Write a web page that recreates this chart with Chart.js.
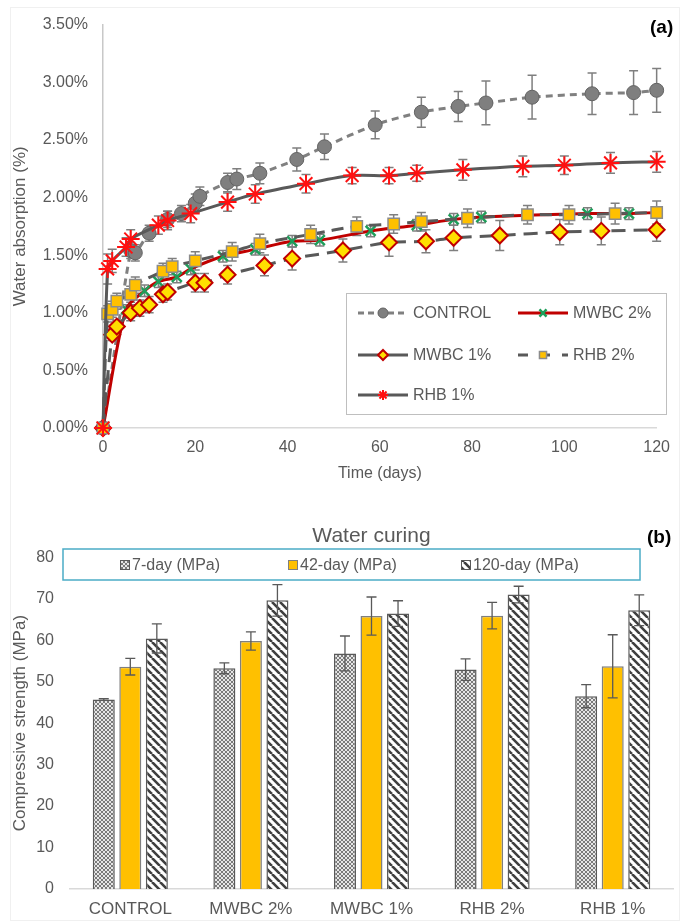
<!DOCTYPE html>
<html>
<head>
<meta charset="utf-8">
<script src="https://cdn.jsdelivr.net/npm/chart.js@4.4.0/dist/chart.umd.min.js"></script>
<style>
  body { margin: 0; background: #fff; font-family: "Liberation Sans", Arial, sans-serif; }
  #wrap { position: relative; width: 680px; height: 922px; }
  #frame { position: absolute; left: 10px; top: 7px; width: 668px; height: 912px; border: 1px solid #f0f0f0; }
  canvas { position: absolute; left: 0; }
  .tag { position: absolute; font-weight: bold; font-size: 19px; color: #000; }
</style>
</head>
<body>
<div id="wrap">
  <div id="frame"></div>
  <canvas id="absorption" width="680" height="490" style="top:0"></canvas>
  <canvas id="strength" width="680" height="432" style="top:490px"></canvas>
  <span class="tag" style="left:650px;top:16px">(a)</span>
  <span class="tag" style="left:647px;top:526px">(b)</span>
</div>
<script>
// ---- (a) water absorption, % vs days
const controlDays = [0, 6, 7, 10, 14, 17, 20, 21, 27, 29, 34, 42, 48, 59, 69, 77, 83, 93, 106, 115, 120];
const controlVals = [0, 1.54, 1.52, 1.69, 1.81, 1.86, 1.95, 2.01, 2.13, 2.16, 2.21, 2.33, 2.44, 2.63, 2.74, 2.79, 2.82, 2.87, 2.90, 2.91, 2.93];
const controlErr  = [0, 0.07, 0.07, 0.07, 0.07, 0.07, 0.08, 0.08, 0.08, 0.09, 0.09, 0.10, 0.11, 0.12, 0.13, 0.13, 0.19, 0.19, 0.18, 0.19, 0.19];

const mwbc2Days = [0, 5, 9, 12, 16, 19, 26, 33, 41, 47, 58, 68, 76, 82, 105, 114, 120];
const mwbc2Vals = [0, 1.03, 1.19, 1.27, 1.31, 1.38, 1.49, 1.55, 1.62, 1.63, 1.71, 1.76, 1.81, 1.83, 1.86, 1.86, 1.87];
const mwbc2Err  = [0, 0.04, 0.05, 0.05, 0.05, 0.05, 0.05, 0.05, 0.05, 0.05, 0.05, 0.05, 0.05, 0.05, 0.05, 0.05, 0.05];

const mwbc1Days = [0, 2, 3, 6, 8, 10, 13, 14, 20, 22, 27, 35, 41, 52, 62, 70, 76, 86, 99, 108, 120];
const mwbc1Vals = [0, 0.81, 0.88, 1.00, 1.04, 1.07, 1.16, 1.18, 1.26, 1.26, 1.33, 1.41, 1.47, 1.54, 1.61, 1.62, 1.65, 1.67, 1.70, 1.71, 1.72];
const mwbc1Err  = [0, 0.05, 0.05, 0.07, 0.07, 0.07, 0.07, 0.07, 0.08, 0.08, 0.08, 0.09, 0.10, 0.10, 0.12, 0.10, 0.11, 0.13, 0.11, 0.12, 0.10];

const rhb2Days = [0, 1, 2, 3, 6, 7, 13, 15, 20, 28, 34, 45, 55, 63, 69, 79, 92, 101, 111, 120];
const rhb2Vals = [0, 0.99, 1.03, 1.10, 1.16, 1.24, 1.36, 1.40, 1.45, 1.53, 1.60, 1.68, 1.75, 1.77, 1.79, 1.82, 1.85, 1.85, 1.86, 1.87];
const rhb2Err  = [0, 0.07, 0.07, 0.07, 0.07, 0.07, 0.07, 0.07, 0.08, 0.08, 0.08, 0.08, 0.08, 0.08, 0.08, 0.08, 0.08, 0.08, 0.09, 0.10];

const rhb1Days = [0, 1, 2, 5, 6, 12, 14, 19, 27, 33, 44, 54, 62, 68, 78, 91, 100, 110, 120];
const rhb1Vals = [0, 1.38, 1.45, 1.57, 1.64, 1.76, 1.80, 1.86, 1.96, 2.03, 2.12, 2.19, 2.19, 2.21, 2.24, 2.27, 2.28, 2.30, 2.31];
const rhb1Err  = [0, 0.13, 0.10, 0.08, 0.08, 0.08, 0.08, 0.08, 0.08, 0.08, 0.08, 0.07, 0.07, 0.07, 0.09, 0.09, 0.08, 0.09, 0.09];

// ---- (b) compressive strength, MPa
const mixes  = ['CONTROL', 'MWBC 2%', 'MWBC 1%', 'RHB 2%', 'RHB 1%'];
const day7   = [45.7, 53.2, 56.8, 52.9, 46.5];
const err7   = [0.2, 1.3, 4.2, 2.6, 2.8];
const day42  = [53.6, 59.8, 65.8, 65.9, 53.7];
const err42  = [2.0, 2.2, 4.6, 3.2, 7.6];
const day120 = [60.4, 69.6, 66.4, 71.0, 67.2];
const err120 = [3.5, 3.8, 3.1, 2.0, 3.7];

const FONT = '"Liberation Sans", Arial, sans-serif';
const GREY = '#595959';

function pts(d, v) { return d.map((x, i) => ({ x: x, y: v[i] })); }

function drawErrors(chart, capHalf, width) {
  const ctx = chart.ctx, ys = chart.scales.y;
  chart.data.datasets.forEach((ds, i) => {
    if (!ds.errors) return;
    chart.getDatasetMeta(i).data.forEach((el, j) => {
      const e = ds.errors[j];
      if (!e) return;
      const raw = ds.data[j];
      const v = typeof raw === 'object' ? raw.y : raw;
      const x = el.x, y1 = ys.getPixelForValue(v + e), y2 = ys.getPixelForValue(v - e);
      ctx.save();
      ctx.strokeStyle = ds.errColor || GREY;
      ctx.lineWidth = width;
      ctx.beginPath();
      ctx.moveTo(x, y1); ctx.lineTo(x, y2);
      ctx.moveTo(x - capHalf, y1); ctx.lineTo(x + capHalf, y1);
      ctx.moveTo(x - capHalf, y2); ctx.lineTo(x + capHalf, y2);
      ctx.stroke();
      ctx.restore();
    });
  });
}

const lineErrors = {
  id: 'lineErrors',
  beforeDatasetsDraw(chart) { drawErrors(chart, 4.5, 1.5); }
};
const barErrors = {
  id: 'barErrors',
  afterDatasetsDraw(chart) { drawErrors(chart, 5, 1.3); }
};

// legend box inside the plot of (a)
const boxLegend = {
  id: 'boxLegend',
  afterDraw(chart) {
    const ctx = chart.ctx;
    ctx.save();
    ctx.fillStyle = '#fff';
    ctx.fillRect(346, 293, 320, 121);
    ctx.strokeStyle = '#bfbfbf';
    ctx.lineWidth = 1;
    ctx.strokeRect(346.5, 293.5, 320, 121);
    const slots = [[358, 313], [518, 313], [358, 355], [518, 355], [358, 395]];
    chart.data.datasets.forEach((ds, i) => {
      const x = slots[i][0], y = slots[i][1];
      ctx.strokeStyle = ds.borderColor;
      ctx.lineWidth = ds.borderWidth;
      ctx.setLineDash(ds.legendDash || []);
      ctx.beginPath(); ctx.moveTo(x, y); ctx.lineTo(x + 50, y); ctx.stroke();
      ctx.setLineDash([]);
      ctx.fillStyle = ds.pointBackgroundColor;
      ctx.strokeStyle = ds.pointBorderColor;
      ctx.lineWidth = ds.pointBorderWidth;
      Chart.helpers.drawPoint(ctx, { pointStyle: ds.pointStyle, radius: 5, borderWidth: ds.pointBorderWidth, rotation: 0 }, x + 25, y);
      ctx.fillStyle = GREY;
      ctx.font = '16px ' + FONT;
      ctx.textBaseline = 'middle';
      ctx.textAlign = 'left';
      ctx.fillText(ds.label, x + 55, y + 1);
    });
    ctx.restore();
  }
};

new Chart(document.getElementById('absorption'), {
  type: 'line',
  data: {
    datasets: [
      { label: 'CONTROL', data: pts(controlDays, controlVals), errors: controlErr, errColor: '#7f7f7f',
        borderColor: '#808080', borderWidth: 3, borderDash: [7, 5], legendDash: [6, 4], clip: false,
        pointStyle: 'circle', pointRadius: 7, pointBackgroundColor: '#7f7f7f', pointBorderColor: '#636363', pointBorderWidth: 1, order: 5 },
      { label: 'MWBC 2%', data: pts(mwbc2Days, mwbc2Vals), errors: mwbc2Err, errColor: '#7f7f7f',
        borderColor: '#C00000', borderWidth: 3, clip: false,
        pointStyle: 'crossRot', pointRadius: 7, pointBackgroundColor: '#1e9e5a', pointBorderColor: '#1e9e5a', pointBorderWidth: 2.5, order: 4 },
      { label: 'MWBC 1%', data: pts(mwbc1Days, mwbc1Vals), errors: mwbc1Err, errColor: '#7f7f7f',
        borderColor: GREY, borderWidth: 3, borderDash: [14, 8], clip: false,
        pointStyle: 'rectRot', pointRadius: 8, pointBackgroundColor: '#FFE000', pointBorderColor: '#C00000', pointBorderWidth: 2, order: 3 },
      { label: 'RHB 2%', data: pts(rhb2Days, rhb2Vals), errors: rhb2Err, errColor: '#7f7f7f',
        borderColor: GREY, borderWidth: 3, borderDash: [12, 7], legendDash: [10, 12], clip: false,
        pointStyle: 'rect', pointRadius: 8, pointBackgroundColor: '#FFC000', pointBorderColor: '#8c8c8c', pointBorderWidth: 1.5, order: 2 },
      { label: 'RHB 1%', data: pts(rhb1Days, rhb1Vals), errors: rhb1Err, errColor: '#7f7f7f',
        borderColor: GREY, borderWidth: 3, clip: false,
        pointStyle: 'star', pointRadius: 9, pointBackgroundColor: '#FF0000', pointBorderColor: '#FF1010', pointBorderWidth: 2, order: 1 }
    ]
  },
  options: {
    responsive: false,
    animation: false,
    tension: 0.3,
    layout: { padding: { top: 17, right: 15, left: 0, bottom: 0 } },
    plugins: { legend: { display: false }, tooltip: { enabled: false } },
    scales: {
      x: {
        type: 'linear', min: 0, max: 120,
        grid: { display: false, drawTicks: false },
        border: { display: true, color: '#d9d9d9', width: 1.5 },
        ticks: { stepSize: 20, color: GREY, font: { size: 16, family: FONT }, padding: 10 },
        title: { display: true, text: 'Time (days)', color: GREY, font: { size: 16, family: FONT }, padding: { top: 4, bottom: 7 } },
        afterFit(s) { s.height = 62; }
      },
      y: {
        min: 0, max: 3.5,
        grid: { display: false, drawTicks: false },
        border: { display: true, color: '#c8c8c8', width: 1.5 },
        ticks: { stepSize: 0.5, color: GREY, font: { size: 16, family: FONT }, padding: 15,
                 callback: v => v.toFixed(2) + '%' },
        title: { display: true, text: 'Water absorption (%)', color: GREY, font: { size: 17, family: FONT }, padding: { top: 10 } },
        afterFit(s) { s.width = 103; }
      }
    }
  },
  plugins: [lineErrors, boxLegend]
});

// ---- bar patterns
function dotPattern() {
  const c = document.createElement('canvas');
  c.width = 4; c.height = 4;
  const g = c.getContext('2d');
  g.fillStyle = '#e6e6e6'; g.fillRect(0, 0, 4, 4);
  g.strokeStyle = '#7a7a7a'; g.lineWidth = 1;
  g.beginPath(); g.moveTo(0, 0); g.lineTo(4, 4); g.moveTo(4, 0); g.lineTo(0, 4); g.stroke();
  return g.createPattern(c, 'repeat');
}
function stripePattern() {
  const c = document.createElement('canvas');
  c.width = 8; c.height = 8;
  const g = c.getContext('2d');
  g.fillStyle = '#fff'; g.fillRect(0, 0, 8, 8);
  g.strokeStyle = '#3f3f3f'; g.lineWidth = 2.6;
  g.beginPath();
  [-8, 0, 8].forEach(k => { g.moveTo(k, 0); g.lineTo(k + 8, 8); });
  g.stroke();
  return g.createPattern(c, 'repeat');
}

const barLegend = {
  id: 'barLegend',
  afterDraw(chart) {
    const ctx = chart.ctx;
    ctx.save();
    ctx.strokeStyle = '#4bacc6';
    ctx.lineWidth = 1.5;
    ctx.fillStyle = '#fff';
    ctx.fillRect(63, 59, 577, 31);
    ctx.strokeRect(63, 59, 577, 31);
    const xs = [120, 288, 461];
    chart.data.datasets.forEach((ds, i) => {
      const x = xs[i], y = 75;
      ctx.fillStyle = ds.backgroundColor;
      ctx.fillRect(x, y - 5, 10, 10);
      ctx.strokeStyle = ds.borderColor;
      ctx.lineWidth = 1;
      ctx.strokeRect(x + 0.5, y - 4.5, 9, 9);
      ctx.fillStyle = GREY;
      ctx.font = '16px ' + FONT;
      ctx.textBaseline = 'middle';
      ctx.textAlign = 'left';
      ctx.fillText(ds.label, x + 12, y + 1);
    });
    ctx.restore();
  }
};

new Chart(document.getElementById('strength'), {
  type: 'bar',
  data: {
    labels: mixes,
    datasets: [
      { label: '7-day (MPa)', data: day7, errors: err7, backgroundColor: dotPattern(), borderColor: GREY, borderWidth: 1.5 },
      { label: '42-day (MPa)', data: day42, errors: err42, backgroundColor: '#FFC000', borderColor: '#7f7f7f', borderWidth: 1.5 },
      { label: '120-day (MPa)', data: day120, errors: err120, backgroundColor: stripePattern(), borderColor: GREY, borderWidth: 1.5 }
    ]
  },
  options: {
    responsive: false,
    animation: false,
    categoryPercentage: 0.66,
    barPercentage: 0.83,
    layout: { padding: { top: 0, right: 7, left: 0, bottom: 0 } },
    plugins: {
      legend: { display: false },
      tooltip: { enabled: false },
      title: { display: true, text: 'Water curing', fullSize: false, color: GREY,
               font: { size: 21, family: FONT, weight: 'normal' }, padding: { top: 34, bottom: 8 } }
    },
    scales: {
      x: {
        grid: { display: false, drawTicks: false },
        border: { display: true, color: '#d9d9d9', width: 1.5 },
        ticks: { color: GREY, font: { size: 17, family: FONT }, padding: 10 },
        afterFit(s) { s.height = 33; }
      },
      y: {
        min: 0, max: 80,
        grid: { display: false, drawTicks: false },
        border: { display: false },
        ticks: { stepSize: 10, color: GREY, font: { size: 16, family: FONT }, padding: 16 },
        title: { display: true, text: 'Compressive strength (MPa)', color: GREY, font: { size: 17, family: FONT }, padding: { top: 10 } },
        afterFit(s) { s.width = 70; }
      }
    }
  },
  plugins: [barErrors, barLegend]
});
</script>
</body>
</html>
